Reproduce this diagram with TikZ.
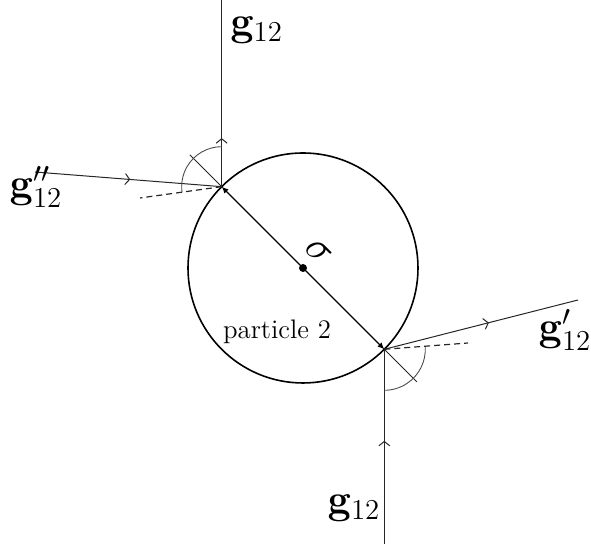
\documentclass[tikz,border=0pt]{standalone}
\usepackage{amsmath}
\usepackage{tikz}
\usetikzlibrary{arrows.meta,calc,decorations.markings}
\tikzset{
  ray/.style={draw=black!85, line width=0.5pt},
  midarr/.style={ray, postaction={decorate},
    decoration={markings, mark=at position #1 with {\arrow{Straight Barb[length=2.2pt,width=5.5pt]}}}},
  midarr/.default=0.5,
  refl/.style={draw=black!85, line width=0.6pt, dash pattern=on 3pt off 2pt},
  angarc/.style={draw=black!70, line width=0.45pt},
  ball/.style={draw=black, line width=0.8pt},
  diam/.style={{Latex[length=3.4pt,width=3pt]}-{Latex[length=3.4pt,width=3pt]}, draw=black, line width=0.6pt},
  glabel/.style={font=\huge, inner sep=1pt}
}
\begin{document}
\begin{tikzpicture}[x=0.5pt,y=0.5pt]
  \useasboundingbox (0,0) rectangle (591,544);
  % particle and contact points
  \coordinate (c) at (303,276);
  \coordinate (p1) at ($(c)+(135:115)$);
  \coordinate (p2) at ($(c)+(-45:115)$);
  \draw[ball] (c) circle[radius=57.5pt];
  \fill (c) circle[radius=2pt];
  \draw[diam] (p1) -- node[sloped, above=3pt, font=\huge] (sig) {$\sigma$} (p2);
  \node[font=\fontsize{13.4}{16}\selectfont] (lbl) at (277,212) {particle 2};
  % upper collision
  \path (p1) ++(0,186.7) coordinate (top);
  \coordinate (inl) at (35,372);
  \draw[midarr=0.26] (p1) -- (top);
  \draw[midarr=0.51] (inl) -- (p1);
  \draw[refl] (p1) -- (140,346);
  \draw[ray] (p1) -- ($(p1)+(135:45)$);
  \draw[angarc] ($(p1)+(90:40)$) arc[start angle=90, end angle=188, radius=40];
  \node[glabel, anchor=west] (gtop) at (228,514) {$\mathbf{g}_{12}$};
  \node[glabel] (gin) at (36,357) {$\mathbf{g}''_{12}$};
  % lower collision
  \path (p2) ++(0,-194.7) coordinate (bot);
  \coordinate (outr) at (578,244);
  \draw[midarr=0.53] (bot) -- (p2);
  \draw[midarr=0.54] (p2) -- (outr);
  \draw[refl] (p2) -- (468,201);
  \draw[ray] (p2) -- ($(p2)+(-45:46)$);
  \draw[angarc] ($(p2)+(3.4:41)$) arc[start angle=3.4, end angle=-90, radius=41];
  \node[glabel] (gbot) at (354,36) {$\mathbf{g}_{12}$};
  \node[glabel] (gout) at (565,214) {$\mathbf{g}'_{12}$};
\end{tikzpicture}
\end{document}
